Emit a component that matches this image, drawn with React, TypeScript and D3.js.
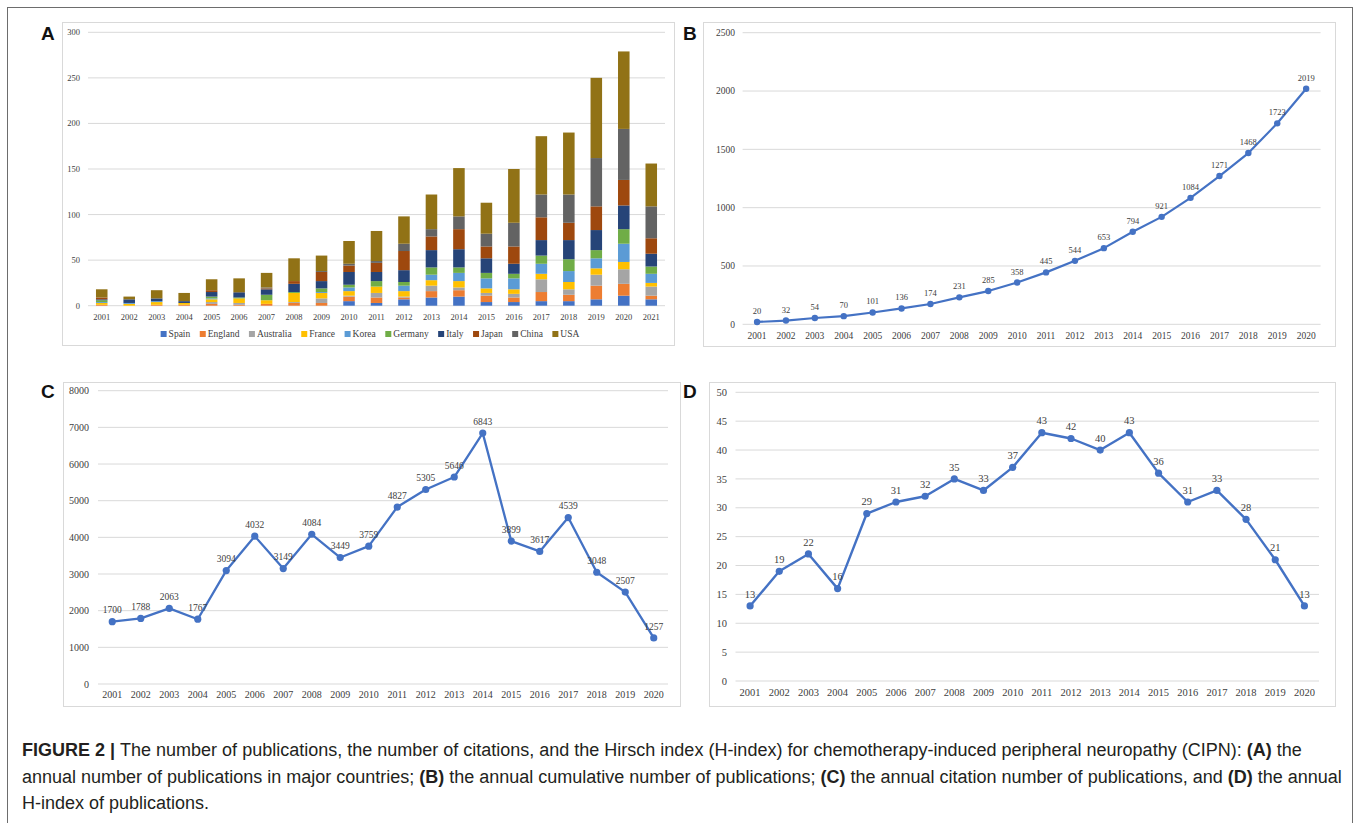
import React from 'react';
import * as d3 from 'd3';

// ---------- DATA ----------
const yearsA = ['2001','2002','2003','2004','2005','2006','2007','2008','2009','2010','2011','2012','2013','2014','2015','2016','2017','2018','2019','2020','2021'];
const years = ['2001','2002','2003','2004','2005','2006','2007','2008','2009','2010','2011','2012','2013','2014','2015','2016','2017','2018','2019','2020'];

const countries = ['Spain','England','Australia','France','Korea','Germany','Italy','Japan','China','USA'];
const countryColors = ['#4472C4','#ED7D31','#A5A5A5','#FFC000','#5B9BD5','#70AD47','#264478','#9E480E','#636363','#917216'];

const spain     = [0,0,0,0,0,0,0,0,0,5,3,7,9,10,4,4,5,5,7,11,7];
const england   = [1,0,1,1,2,1,2,3,3,5,6,2,7,7,7,5,10,7,15,13,4];
const australia = [0,0,0,0,2,2,0,1,5,1,5,1,6,3,3,4,14,6,12,16,10];
const france    = [2,2,3,2,3,5,4,10,6,5,7,6,6,7,5,5,6,8,7,8,4];
const korea     = [1,1,1,0,1,0,0,0,1,4,0,6,6,9,11,12,11,12,11,20,10];
const germany   = [2,0,0,0,2,1,6,1,4,3,6,4,8,6,6,5,9,13,9,16,8];
const italy     = [1,4,3,2,5,5,6,9,8,14,10,13,19,20,16,11,17,21,22,26,14];
const japan     = [2,0,0,0,2,0,1,3,10,7,10,21,15,22,13,19,25,19,26,28,17];
const china     = [0,0,0,0,0,1,1,0,1,2,2,8,8,14,14,26,25,31,53,56,35];
const usa       = [9,3,9,9,12,15,16,25,17,25,33,30,38,53,34,59,64,68,88,85,47];
const countrySeries = [spain, england, australia, france, korea, germany, italy, japan, china, usa];

const cumulative = [20,32,54,70,101,136,174,231,285,358,445,544,653,794,921,1084,1271,1468,1723,2019];
const citations  = [1700,1788,2063,1767,3094,4032,3149,4084,3449,3759,4827,5305,5646,6843,3899,3617,4539,3048,2507,1257];
const hindex     = [13,19,22,16,29,31,32,35,33,37,43,42,40,43,36,31,33,28,21,13];

const ticksA = [0,50,100,150,200,250,300];
const ticksB = [0,500,1000,1500,2000,2500];
const ticksC = [0,1000,2000,3000,4000,5000,6000,7000,8000];
const ticksD = [0,5,10,15,20,25,30,35,40,45,50];

const captionLines = [
  [['FIGURE 2 | ', true], ['The number of publications, the number of citations, and the Hirsch index (H-index) for chemotherapy-induced peripheral neuropathy (CIPN): ', false], ['(A)', true], [' the', false]],
  [['annual number of publications in major countries; ', false], ['(B)', true], [' the annual cumulative number of publications; ', false], ['(C)', true], [' the annual citation number of publications, and ', false], ['(D)', true], [' the annual', false]],
  [['H-index of publications.', false]],
];

// ---------- STYLE ----------
const SERIF = "'Liberation Serif', 'Times New Roman', serif";
const SANS = "'Liberation Sans', Arial, Helvetica, sans-serif";
const GRID = '#d9d9d9';
const TXT = '#404040';
const LINE = '#4472C4';

function measure(text: string, font: string) {
  const c = document.createElement('canvas');
  const ctx = c.getContext('2d')!;
  ctx.font = font;
  return ctx.measureText(text).width;
}

function Box({ x, y, w, h }: any) {
  return <rect x={x} y={y} width={w} height={h} fill="#fff" stroke="#d9d9d9" strokeWidth={1} />;
}

function PanelLetter({ x, y, t }: any) {
  return <text x={x} y={y} fontFamily={SANS} fontWeight="bold" fontSize={19} fill="#111">{t}</text>;
}

function StackedPanel() {
  const x0 = 88, x1 = 665, yT = 32.3, yB = 305.7;
  const x = d3.scaleBand().domain(yearsA).range([x0, x1]).paddingInner(0.58).paddingOuter(0.29);
  const y = d3.scaleLinear().domain([0, 300]).range([yB, yT]);
  const rows = yearsA.map((yr, i) => {
    const r: any = { year: yr };
    countries.forEach((c, k) => { r[c] = countrySeries[k][i]; });
    return r;
  });
  const stack = d3.stack().keys(countries)(rows as any);
  const lfont = `9.5px ${SERIF}`;
  const sq = 6, gap1 = 2, gap2 = 9.5;
  const widths = countries.map(c => measure(c, lfont));
  const total = widths.reduce((a, w) => a + sq + gap1 + w, 0) + gap2 * (countries.length - 1);
  let lx = 370 - total / 2;
  const items = countries.map((c, k) => {
    const it = { c, k, x: lx };
    lx += sq + gap1 + widths[k] + gap2;
    return it;
  });
  return (
    <g>
      {ticksA.map(t => (
        <g key={t}>
          <line x1={x0} x2={x1} y1={y(t)} y2={y(t)} stroke={GRID} strokeWidth={1} />
          <text x={x0 - 8} y={y(t)} dy="0.35em" textAnchor="end" fontFamily={SERIF} fontSize={8.5} fill={TXT}>{t}</text>
        </g>
      ))}
      {stack.map((s, k) => (
        <g key={k} fill={countryColors[k]}>
          {s.map((d: any, i: number) => (
            <rect key={i} x={x(yearsA[i])} width={x.bandwidth()} y={y(d[1])} height={Math.max(0, y(d[0]) - y(d[1]))} />
          ))}
        </g>
      ))}
      {yearsA.map(yr => (
        <text key={yr} x={x(yr)! + x.bandwidth() / 2} y={317} dy="0.35em" textAnchor="middle" fontFamily={SERIF} fontSize={8.5} fill={TXT}>{yr}</text>
      ))}
      {items.map(it => (
        <g key={it.c}>
          <rect x={it.x} y={334 - sq / 2} width={sq} height={sq} fill={countryColors[it.k]} />
          <text x={it.x + sq + gap1} y={334} dy="0.35em" fontFamily={SERIF} fontSize={9.5} fill={TXT}>{it.c}</text>
        </g>
      ))}
    </g>
  );
}

function LinePanel({ values, ticks, max, x0, x1, yT, yB, tickFont, labelFont, labelDy, r, sw, labelX, xLabelY }: any) {
  const x = d3.scalePoint().domain(years).range([x0, x1]).padding(0.5);
  const y = d3.scaleLinear().domain([0, max]).range([yB, yT]);
  const line = d3.line<number>().x((d, i) => x(years[i])!).y(d => y(d));
  return (
    <g>
      {ticks.map((t: number) => (
        <g key={t}>
          <line x1={x0} x2={x1} y1={y(t)} y2={y(t)} stroke={GRID} strokeWidth={1} />
          <text x={labelX} y={y(t)} dy="0.35em" textAnchor="end" fontFamily={SERIF} fontSize={tickFont} fill={TXT}>{t}</text>
        </g>
      ))}
      {years.map(yr => (
        <text key={yr} x={x(yr)} y={xLabelY} dy="0.35em" textAnchor="middle" fontFamily={SERIF} fontSize={tickFont} fill={TXT}>{yr}</text>
      ))}
      <path d={line(values)!} fill="none" stroke={LINE} strokeWidth={sw} strokeLinejoin="round" />
      {values.map((v: number, i: number) => (
        <circle key={i} cx={x(years[i])} cy={y(v)} r={r} fill={LINE} />
      ))}
      {values.map((v: number, i: number) => (
        <text key={'l' + i} x={x(years[i])} y={y(v) - labelDy} dy="0.35em" textAnchor="middle" fontFamily={SERIF} fontSize={labelFont} fill={TXT}>{v}</text>
      ))}
    </g>
  );
}

function Caption() {
  const fs = 18;
  return (
    <g>
      {captionLines.map((ln, li) => (
        <text key={li} x={22} y={750 + li * 26.5} dy="0.35em" fontFamily={SANS} fontSize={fs} fill="#231f20">
          {ln.map((seg: any, si: number) => (
            <tspan key={si} fontWeight={seg[1] ? 'bold' : 'normal'}>{seg[0]}</tspan>
          ))}
        </text>
      ))}
    </g>
  );
}

export default function App() {
  React.useEffect(() => { document.body.style.margin = '0'; }, []);
  return (
    <svg width={1360} height={823} style={{ position: 'absolute', left: 0, top: 0, background: '#fff' }}>
      <rect x={0} y={0} width={1360} height={823} fill="#fff" />
      <rect x={7.5} y={7.5} width={1345} height={830} fill="none" stroke="#6d6d6d" strokeWidth={1} />
      <Box x={62.5} y={22.5} w={612} h={323} />
      <Box x={703.5} y={22.5} w={632} h={324} />
      <Box x={63.5} y={382.5} w={617} h={324} />
      <Box x={709.5} y={382.5} w={626} h={324} />
      <PanelLetter x={41} y={40} t="A" />
      <PanelLetter x={683} y={40} t="B" />
      <PanelLetter x={41} y={398} t="C" />
      <PanelLetter x={683} y={398} t="D" />
      <StackedPanel />
      <LinePanel values={cumulative} ticks={ticksB} max={2500} x0={742.6} x1={1320.6} yT={32.7} yB={324.3}
        tickFont={9.5} labelFont={8.5} labelDy={11} r={3.2} sw={2.2} labelX={735} xLabelY={336} />
      <LinePanel values={citations} ticks={ticksC} max={8000} x0={98} x1={668} yT={390.7} yB={684}
        tickFont={10} labelFont={9.5} labelDy={11.5} r={3.6} sw={2.3} labelX={89} xLabelY={694.5} />
      <LinePanel values={hindex} ticks={ticksD} max={50} x0={735.5} x1={1319} yT={392.3} yB={681}
        tickFont={10.5} labelFont={10.5} labelDy={12} r={3.6} sw={2.4} labelX={727} xLabelY={692.5} />
      <Caption />
    </svg>
  );
}
